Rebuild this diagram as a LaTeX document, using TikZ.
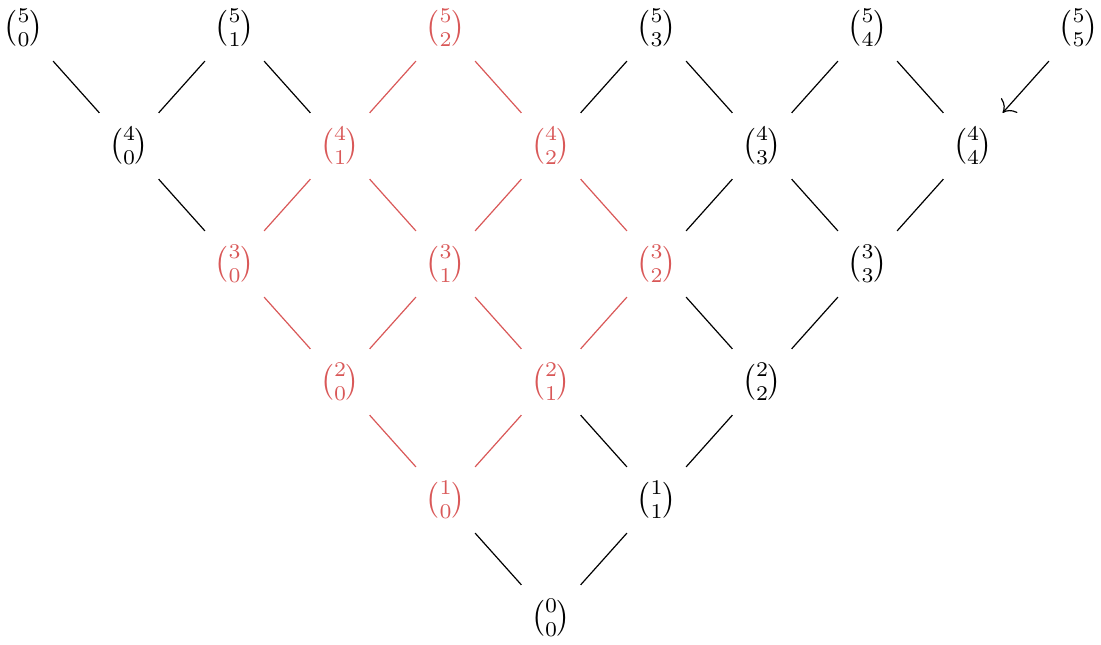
\documentclass[tikz,border=0pt]{standalone}
\usepackage{amsmath}
\usetikzlibrary{arrows.meta}
\definecolor{hl}{RGB}{217,88,88}
\begin{document}
\begin{tikzpicture}[x=35.1667pt,y=39.333pt,
  bn/.style={inner sep=0pt},
  hn/.style={bn,text=hl},
  ed/.style={draw=black,line width=0.4pt,shorten <=6.2pt,shorten >=6.2pt},
  hed/.style={ed,draw=hl}]
\useasboundingbox (-183.67pt,-8.67pt) rectangle (183.33pt,206pt);
% row 5
\node[bn] (n50) at (-5,5) {$\binom{5}{0}$};
\node[bn] (n51) at (-3,5) {$\binom{5}{1}$};
\node[hn] (n52) at (-1,5) {$\binom{5}{2}$};
\node[bn] (n53) at (1,5) {$\binom{5}{3}$};
\node[bn] (n54) at (3,5) {$\binom{5}{4}$};
\node[bn] (n55) at (5,5) {$\binom{5}{5}$};
% row 4
\node[bn] (n40) at (-4,4) {$\binom{4}{0}$};
\node[hn] (n41) at (-2,4) {$\binom{4}{1}$};
\node[hn] (n42) at (0,4) {$\binom{4}{2}$};
\node[bn] (n43) at (2,4) {$\binom{4}{3}$};
\node[bn] (n44) at (4,4) {$\binom{4}{4}$};
% row 3
\node[hn] (n30) at (-3,3) {$\binom{3}{0}$};
\node[hn] (n31) at (-1,3) {$\binom{3}{1}$};
\node[hn] (n32) at (1,3) {$\binom{3}{2}$};
\node[bn] (n33) at (3,3) {$\binom{3}{3}$};
% row 2
\node[hn] (n20) at (-2,2) {$\binom{2}{0}$};
\node[hn] (n21) at (0,2) {$\binom{2}{1}$};
\node[bn] (n22) at (2,2) {$\binom{2}{2}$};
% row 1
\node[hn] (n10) at (-1,1) {$\binom{1}{0}$};
\node[bn] (n11) at (1,1) {$\binom{1}{1}$};
% row 0
\node[bn] (n00) at (0,0) {$\binom{0}{0}$};
% edges
\draw[ed] (n50) -- (n40);
\draw[ed] (n51) -- (n40);
\draw[ed] (n51) -- (n41);
\draw[hed] (n52) -- (n41);
\draw[hed] (n52) -- (n42);
\draw[ed] (n53) -- (n42);
\draw[ed] (n53) -- (n43);
\draw[ed] (n54) -- (n43);
\draw[ed] (n54) -- (n44);
\draw[ed,-{To[scale=1.4]}] (n55) -- (n44);
\draw[ed] (n40) -- (n30);
\draw[hed] (n41) -- (n30);
\draw[hed] (n41) -- (n31);
\draw[hed] (n42) -- (n31);
\draw[hed] (n42) -- (n32);
\draw[ed] (n43) -- (n32);
\draw[ed] (n43) -- (n33);
\draw[ed] (n44) -- (n33);
\draw[hed] (n30) -- (n20);
\draw[hed] (n31) -- (n20);
\draw[hed] (n31) -- (n21);
\draw[hed] (n32) -- (n21);
\draw[ed] (n32) -- (n22);
\draw[ed] (n33) -- (n22);
\draw[hed] (n20) -- (n10);
\draw[hed] (n21) -- (n10);
\draw[ed] (n21) -- (n11);
\draw[ed] (n22) -- (n11);
\draw[ed] (n10) -- (n00);
\draw[ed] (n11) -- (n00);
\end{tikzpicture}
\end{document}
